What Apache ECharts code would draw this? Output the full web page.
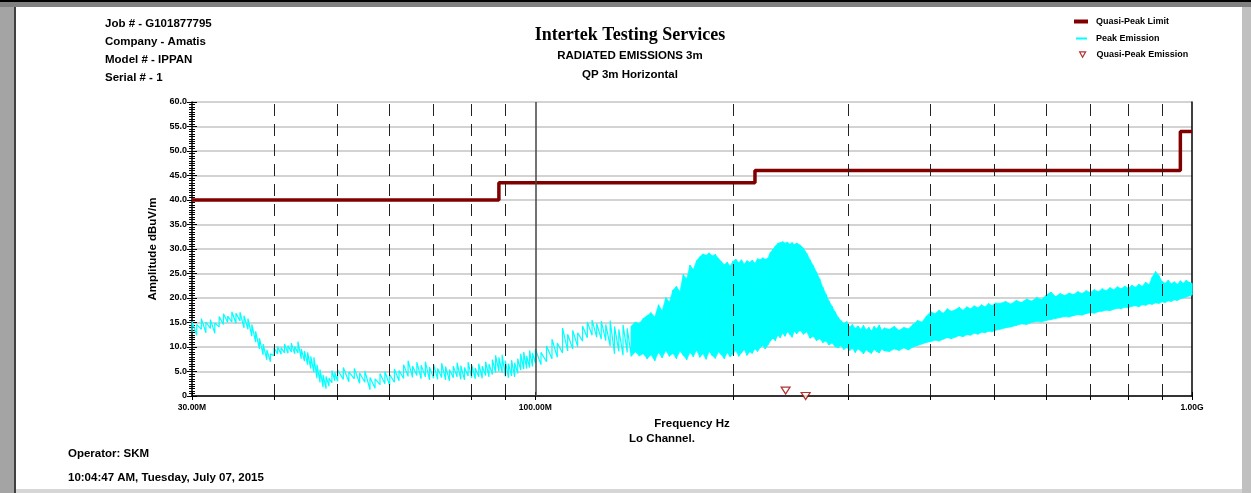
<!DOCTYPE html>
<html>
<head>
<meta charset="utf-8">
<title>Radiated Emissions 3m</title>
<script src="https://cdn.jsdelivr.net/npm/echarts@6/dist/echarts.min.js"></script>
<style>
html, body { margin: 0; padding: 0; background: #fff; }
#main { width: 1251px; height: 493px; }
</style>
</head>
<body>
<div id="main"></div>
<script>
// 峰值扫描频点 (MHz)
const peakFreqs = [
	30, 30.5, 31, 31.5, 32, 32.5, 33, 33.5, 34, 34.5, 35, 35.5, 36, 36.5, 37, 37.5, 38, 38.5, 39, 39.5,
	40, 40.5, 41, 41.5, 42, 42.5, 43, 43.5, 44, 44.5, 45, 45.5, 46, 46.5, 47, 47.5, 48, 48.5, 49, 49.5, 50,
	51, 52, 53, 54, 55, 56, 57, 58, 59, 60, 61, 62, 63, 64, 65, 66, 67, 68, 69, 70,
	71, 72, 73, 74, 75, 76, 77, 78, 79, 80, 81, 82, 83, 84, 85, 86, 87, 88, 89, 90,
	91, 92, 93, 94, 95, 96, 97, 98, 99, 100,
	102, 104, 106, 108, 110, 112, 114, 116, 118, 120, 122, 124, 126, 128, 130, 132, 134, 136, 138, 140,
	142, 144, 146, 148, 150,
	152, 154, 156, 158, 160, 162, 164, 166, 168, 170, 172, 174, 176, 178, 180, 182, 184, 186, 188, 190,
	192, 194, 196, 198, 200, 202, 204, 206, 208, 210, 212, 214, 216, 218, 220, 222, 224, 226, 228, 230,
	232, 234, 236, 238, 240, 242, 244, 246, 248, 250,
	253, 256, 259, 262, 265, 268, 271, 274, 277, 280, 283, 286, 289, 292, 295, 298, 301, 304, 307, 310,
	313, 316, 319, 322, 325, 328, 331, 334, 337, 340,
	346, 352, 358, 364, 370, 376, 382, 388, 394, 400, 406, 412, 418, 424, 430, 436, 442, 448, 454, 460,
	466, 472, 478, 484, 490, 496, 502,
	510, 520, 530, 540, 550, 560, 570, 580, 590, 600, 610, 620, 630, 640, 650, 660, 670, 680, 690, 700,
	710, 720, 730, 740, 750, 760, 770, 780, 790, 800, 810, 820, 830, 840, 850, 860, 870, 880, 890, 900,
	910, 920, 930, 940, 950, 960, 970, 980, 990, 1000
];
// 每个频点的峰值上沿 (dBuV/m)
const peakHigh = [
	15.2, 14.6, 15.8, 15.1, 15.6, 14.9, 16.2, 16.8, 16.3, 17.2, 16.9, 17.1, 16.4, 15.8, 14.6, 13.2, 11.8, 10.6, 9.4, 8.6,
	9.8, 10.1, 9.9, 10.6, 10.3, 10.8, 10.1, 11.1, 9.6, 9.2, 8.9, 8.1, 7.9, 6.4, 5.4, 4.3, 4.0, 3.6, 5.2, 4.8, 5.3,
	5.8, 4.9, 5.6, 4.7, 5.1, 3.8, 3.5, 4.6, 5.0, 4.4, 5.5, 5.2, 6.4, 7.2, 6.1, 6.9, 6.3, 7.0, 5.9, 6.4,
	5.6, 6.7, 6.0, 5.4, 6.1, 6.8, 6.2, 5.8, 6.9, 6.3, 5.7, 6.6, 6.1, 7.0, 6.5, 7.4, 8.3, 7.9, 8.4, 7.2,
	6.6, 7.3, 6.8, 7.6, 8.6, 9.0, 8.2, 9.3, 8.8, 9.6,
	8.9, 10.2, 11.6, 10.8, 13.9, 12.6, 13.4, 12.9, 14.3, 15.1, 15.5, 14.8, 15.3, 14.6, 15.4, 14.2, 13.6, 14.5, 13.8, 14.3,
	15.1, 14.8, 15.8, 16.4, 17.0,
	16.1, 18.6, 17.4, 20.1, 19.2, 21.6, 22.4, 21.3, 24.8, 23.9, 26.7, 25.8, 27.6, 28.4, 29.0, 28.7, 29.2, 28.6, 28.9, 28.1,
	27.4, 26.8, 27.3, 26.5, 27.5, 27.9, 27.2, 27.8, 26.9, 27.6, 27.3, 27.7, 27.1, 28.0, 27.8, 28.2, 27.9, 28.1, 29.3, 29.9,
	30.6, 31.1, 31.3, 31.5, 31.2, 31.4, 31.0, 31.3, 30.9, 31.2,
	30.8, 30.2, 29.1, 27.8, 26.6, 25.3, 23.9, 22.2, 20.8, 19.4, 18.3, 17.2, 16.1, 15.4, 14.8, 15.2, 14.1, 14.6, 13.8, 14.3,
	13.6, 14.4, 13.5, 14.0, 13.3, 14.2, 13.7, 14.5, 13.4, 13.9,
	13.6, 14.2, 13.4, 14.0, 13.7, 14.6, 15.4, 15.1, 16.3, 17.2, 16.8, 17.5, 16.9, 17.8, 17.3, 17.6, 18.1, 17.5, 18.2, 17.8,
	18.4, 18.0, 18.6, 18.2, 18.9, 18.4, 19.0,
	18.9, 19.3, 18.8, 19.5, 19.1, 19.8, 19.4, 20.1, 19.7, 20.6, 21.2, 20.3, 20.9, 20.5, 21.0, 20.7, 21.3, 20.9, 21.5, 21.1,
	21.7, 21.3, 21.9, 21.5, 22.1, 21.7, 22.3, 21.9, 22.4, 22.0, 22.6, 22.2, 22.8, 22.4, 23.2, 22.7, 24.3, 25.4, 24.6, 23.4,
	23.0, 23.6, 22.9, 23.3, 22.8, 23.5, 23.0, 23.6, 23.2, 23.0
];
// 每个频点的峰值下沿 (dBuV/m)
const peakLow = [
	13.0, 12.4, 13.6, 12.9, 13.8, 12.8, 14.1, 14.6, 15.0, 15.1, 14.8, 15.3, 13.9, 13.6, 12.2, 11.0, 9.6, 8.4, 7.4, 7.0,
	8.2, 8.6, 8.5, 8.8, 8.7, 9.0, 8.6, 8.8, 7.6, 7.1, 6.4, 5.6, 4.8, 3.6, 2.8, 1.8, 1.5, 2.0, 2.7, 3.1, 3.0,
	3.4, 2.9, 3.5, 2.6, 2.8, 1.3, 1.6, 2.3, 2.5, 2.2, 2.8, 3.1, 3.6, 4.0, 3.8, 4.2, 3.5, 3.9, 3.3, 3.6,
	3.4, 3.8, 3.3, 3.1, 3.7, 3.9, 3.4, 3.3, 4.1, 3.7, 3.5, 3.9, 3.6, 4.2, 3.9, 4.4, 4.8, 5.0, 4.7, 4.0,
	3.7, 4.1, 3.9, 4.6, 5.3, 5.5, 5.6, 5.8, 6.0, 6.7,
	6.4, 7.0, 7.6, 7.9, 8.8, 9.2, 9.6, 10.1, 11.2, 11.9, 12.4, 12.0, 11.6, 11.3, 10.2, 8.6, 9.1, 8.3, 8.9, 8.1,
	9.0, 8.2, 8.6, 7.6, 8.4,
	7.2, 8.9, 7.8, 9.3, 8.1, 8.7, 7.6, 9.2, 8.3, 7.4, 8.9, 8.0, 9.4, 7.9, 8.6, 7.5, 9.1, 8.2, 7.7, 9.0,
	8.4, 7.6, 8.9, 8.0, 8.6, 9.3, 8.1, 8.8, 9.5, 8.3, 9.0, 8.7, 9.6, 9.1, 9.9, 10.3, 9.6, 10.4, 11.2, 11.8,
	11.3, 12.4, 11.9, 12.8, 12.2, 13.1, 12.6, 12.0, 13.2, 12.7,
	13.4, 12.6, 13.1, 11.8, 12.2, 11.3, 11.7, 10.9, 11.2, 10.4, 10.8, 10.1, 9.8, 10.3, 9.5, 9.9, 9.3, 9.7, 8.9, 9.6,
	9.2, 8.6, 9.4, 9.0, 8.7, 9.5, 9.1, 8.8, 9.6, 9.2,
	9.1, 9.6, 9.3, 9.8, 9.4, 10.0, 10.3, 10.6, 10.9, 11.1, 11.4, 11.2, 11.6, 11.9, 11.7, 12.0, 12.3, 12.1, 12.5, 12.4,
	12.8, 12.6, 13.0, 12.9, 13.2, 13.1, 13.4,
	13.6, 13.9, 14.1, 14.4, 14.7, 14.6, 15.0, 15.2, 15.1, 15.4, 15.6, 15.8, 16.0, 16.2, 16.1, 16.4, 16.6, 16.5, 16.8, 17.0,
	16.9, 17.2, 17.3, 17.5, 17.4, 17.7, 17.9, 17.8, 18.1, 18.0, 18.3, 18.4, 18.2, 18.6, 18.5, 18.8, 18.7, 19.0, 18.9, 19.2,
	19.1, 19.4, 19.3, 19.6, 19.5, 19.8, 20.0, 20.2, 20.4, 20.6
];

// 准峰值限值 (阶梯)
const limitFreqs = [30, 88, 216, 960, 1000];
const limitLevels = [40, 43.5, 46, 54, 54];

// 准峰值测量点
const qpFreqs = [240.5, 258];
const qpLevels = [1.1, 0];

// 坐标轴刻度
const gridFreqs = [40, 50, 60, 70, 80, 90, 200, 300, 400, 500, 600, 700, 800, 900];
const tickFreqs = [30, 40, 50, 60, 70, 80, 90, 100, 200, 300, 400, 500, 600, 700, 800, 900, 1000];
const labelFreqs = [30, 100, 1000];

// 从这个频率起扫描带很密, 用填充画
const denseFrom = 140;

const FONT = 'Liberation Sans, Arial, sans-serif';
const CYAN = '#00ffff';
const LIMIT_RED = '#800000';
const QP_RED = '#a00000';

// 扫描曲线: 每个频点一段上下沿, 锯齿连接
const peakData = [];
peakFreqs.forEach((f, i) => {
	peakData.push([f, peakLow[i]], [f, peakHigh[i]]);
});

// 密集区的填充带: 相邻两个频点组成一块
const bandData = [];
for (let i = 0; i < peakFreqs.length - 1; i++) {
	if (peakFreqs[i] < denseFrom) continue;
	bandData.push([peakFreqs[i], peakLow[i], peakHigh[i], peakFreqs[i + 1], peakLow[i + 1], peakHigh[i + 1]]);
}

function renderBand(params, api) {
	const a = api.coord([api.value(0), api.value(1)]);
	const b = api.coord([api.value(0), api.value(2)]);
	const c = api.coord([api.value(3), api.value(5)]);
	const d = api.coord([api.value(3), api.value(4)]);
	return {
		type: 'polygon',
		shape: { points: [a, b, c, d] },
		style: { fill: CYAN, stroke: CYAN, lineWidth: 0.6 }
	};
}

function freqLabel(v) {
	return v >= 1000 ? (v / 1000).toFixed(2) + 'G' : v.toFixed(2) + 'M';
}

function headText(x, y, text, size, align, family) {
	return {
		type: 'text',
		x: x,
		y: y,
		style: {
			text: text,
			fill: '#000',
			font: 'bold ' + size + 'px ' + (family || FONT),
			textAlign: align || 'left',
			textVerticalAlign: 'middle',
			align: align || 'left',
			verticalAlign: 'middle'
		}
	};
}

function legendBox(name, left, top, w, h, icon, padLeft, itemStyle) {
	return {
		data: [{ name: name, icon: icon, itemStyle: itemStyle }],
		left: left,
		top: top,
		padding: 0,
		itemWidth: w,
		itemHeight: h,
		selectedMode: false,
		textStyle: {
			fontFamily: FONT,
			fontWeight: 'bold',
			fontSize: 9,
			color: '#000',
			padding: [0, 0, 0, padLeft]
		}
	};
}

const chart = echarts.init(document.getElementById('main'));

chart.setOption({
	animation: false,
	backgroundColor: '#fff',
	grid: { left: 192, right: 59, top: 102, bottom: 97, containLabel: false },
	legend: [
		legendBox('Quasi-Peak Limit', 1074, 17, 14, 4, 'rect', 3, { color: LIMIT_RED }),
		legendBox('Peak Emission', 1076, 34, 11, 2, 'rect', 4, { color: CYAN, borderWidth: 0 }),
		legendBox('Quasi-Peak Emission', 1079, 50, 6, 6, 'path://M0,0 L10,0 L5,9 Z', 6,
			{ color: '#fff', borderColor: QP_RED, borderWidth: 1.2 })
	],
	xAxis: [
		{
			type: 'log',
			logBase: 10,
			min: 30,
			max: 1000,
			position: 'bottom',
			axisLine: { lineStyle: { color: '#000', width: 1.5 } },
			axisTick: { show: true, customValues: tickFreqs, length: 4, lineStyle: { color: '#000' } },
			axisLabel: {
				customValues: labelFreqs,
				formatter: freqLabel,
				fontFamily: FONT,
				fontWeight: 'bold',
				fontSize: 8.5,
				color: '#000',
				margin: 7
			},
			splitLine: { show: false },
			name: 'Frequency Hz',
			nameLocation: 'middle',
			nameGap: 22,
			nameTextStyle: { fontFamily: FONT, fontWeight: 'bold', fontSize: 11.5, color: '#000' }
		},
		{
			type: 'log',
			logBase: 10,
			min: 30,
			max: 1000,
			position: 'bottom',
			offset: 0,
			axisLine: { show: false },
			axisTick: { show: true, inside: true, customValues: tickFreqs, length: 4, lineStyle: { color: '#000' } },
			axisLabel: { show: false },
			splitLine: { show: false }
		}
	],
	yAxis: [
		{
			type: 'value',
			min: 0,
			max: 60,
			interval: 5,
			position: 'left',
			axisLine: { show: true, lineStyle: { color: '#000', width: 1.5 } },
			axisTick: { show: true, length: 5, lineStyle: { color: '#000' } },
			minorTick: { show: true, splitNumber: 10, length: 3, lineStyle: { color: '#000' } },
			axisLabel: {
				formatter: v => (v === 0 ? '0' : v.toFixed(1)),
				fontFamily: FONT,
				fontWeight: 'bold',
				fontSize: 9,
				color: '#000',
				margin: 5
			},
			splitLine: { show: true, lineStyle: { color: '#c4c4c4', width: 1.5 } },
			name: 'Amplitude dBuV/m',
			nameLocation: 'middle',
			nameRotate: 90,
			nameGap: 25,
			nameTextStyle: { fontFamily: FONT, fontWeight: 'bold', fontSize: 11.5, color: '#000' }
		},
		{
			type: 'value',
			min: 0,
			max: 60,
			interval: 5,
			position: 'left',
			offset: 0,
			axisLine: { show: false },
			axisTick: { show: true, inside: true, length: 5, lineStyle: { color: '#000' } },
			minorTick: { show: true, splitNumber: 10, length: 3, lineStyle: { color: '#000' } },
			axisLabel: { show: false },
			splitLine: { show: false }
		},
		{
			type: 'value',
			min: 0,
			max: 60,
			position: 'right',
			axisLine: { show: true, lineStyle: { color: '#000', width: 1.5 } },
			axisTick: { show: false },
			axisLabel: { show: false },
			splitLine: { show: false }
		}
	],
	series: [
		{
			// 密集区填充
			name: 'band',
			type: 'custom',
			data: bandData,
			renderItem: renderBand,
			encode: { x: [0, 3], y: [1, 2, 4, 5] },
			silent: true,
			clip: true,
			z: 1
		},
		{
			name: 'Peak Emission',
			type: 'line',
			data: peakData,
			symbol: 'none',
			z: 2,
			lineStyle: { color: CYAN, width: 1.2 },
			itemStyle: { color: CYAN }
		},
		{
			// 竖向网格线
			name: 'grid',
			type: 'line',
			data: [],
			z: 3,
			markLine: {
				silent: true,
				symbol: ['none', 'none'],
				label: { show: false },
				data: gridFreqs.map(f => ({
					xAxis: f,
					lineStyle: { type: [12, 8], color: '#222', width: 1 }
				})).concat([{ xAxis: 100, lineStyle: { type: 'solid', color: '#444', width: 1.5 } }])
			}
		},
		{
			name: 'Quasi-Peak Limit',
			type: 'line',
			step: 'end',
			data: limitFreqs.map((f, i) => [f, limitLevels[i]]),
			symbol: 'none',
			z: 4,
			lineStyle: { color: LIMIT_RED, width: 3.5 },
			itemStyle: { color: LIMIT_RED }
		},
		{
			name: 'Quasi-Peak Emission',
			type: 'scatter',
			data: qpFreqs.map((f, i) => [f, qpLevels[i]]),
			symbol: 'triangle',
			symbolRotate: 180,
			symbolSize: [9, 7],
			z: 5,
			itemStyle: { color: '#fff', borderColor: QP_RED, borderWidth: 1.2 }
		}
	],
	graphic: [
		// 外框
		{ type: 'rect', shape: { x: 0, y: 0, width: 1251, height: 2 }, style: { fill: '#000' } },
		{ type: 'rect', shape: { x: 0, y: 2, width: 1251, height: 5 }, style: { fill: '#808080' } },
		{ type: 'rect', shape: { x: 0, y: 7, width: 14, height: 486 }, style: { fill: '#a4a4a4' } },
		{ type: 'rect', shape: { x: 14, y: 7, width: 2, height: 486 }, style: { fill: '#404040' } },
		{ type: 'rect', shape: { x: 1242, y: 7, width: 9, height: 486 }, style: { fill: '#c0c0c0' } },
		{ type: 'rect', shape: { x: 16, y: 489, width: 1226, height: 4 }, style: { fill: '#d6d6d6' } },
		// 表头文字
		headText(105, 24, 'Job # - G101877795', 11.5),
		headText(105, 42, 'Company - Amatis', 11.5),
		headText(105, 60, 'Model # - IPPAN', 11.5),
		headText(105, 78, 'Serial # - 1', 11.5),
		headText(630, 35, 'Intertek Testing Services', 18, 'center', 'Liberation Serif, Times New Roman, serif'),
		headText(630, 56, 'RADIATED EMISSIONS 3m', 11.5, 'center'),
		headText(630, 75, 'QP 3m Horizontal', 11.5, 'center'),
		headText(662, 439, 'Lo Channel.', 11.5, 'center'),
		headText(68, 454, 'Operator: SKM', 11.5),
		headText(68, 478, '10:04:47 AM, Tuesday, July 07, 2015', 11.5)
	]
});
</script>
</body>
</html>
